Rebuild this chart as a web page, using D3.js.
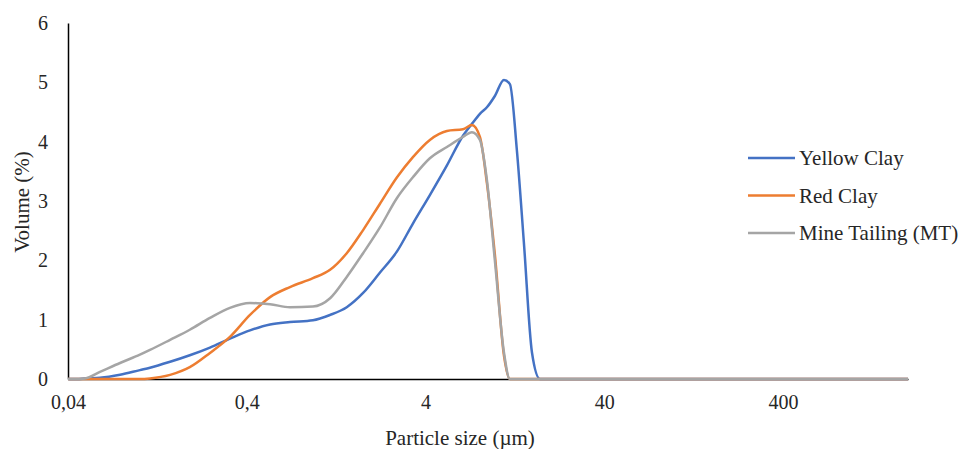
<!DOCTYPE html>
<html>
<head>
<meta charset="utf-8">
<script src="https://cdn.jsdelivr.net/npm/d3@7"></script>
<style>
  body { margin: 0; background: #fff; }
</style>
</head>
<body>
<div id="graph"></div>
<script>
// particle sizes (um) shared by all three series
const sizes = [0.04, 0.0449, 0.0498, 0.0604, 0.0782, 0.101, 0.115, 0.149, 0.192, 0.249,
  0.322, 0.417, 0.540, 0.698, 0.938, 1.17, 1.45, 1.79, 2.22, 2.77,
  3.40, 4.23, 5.27, 6.48, 7.27, 8.06, 8.82, 9.77, 10.98, 11.86,
  12.98, 14.2, 15.75, 17.46, 37.8, 2000];

const yellowClay = [0, 0, 0.01, 0.02, 0.07, 0.15, 0.19, 0.29, 0.40, 0.53,
  0.68, 0.82, 0.92, 0.96, 0.99, 1.08, 1.21, 1.45, 1.79, 2.15,
  2.62, 3.10, 3.60, 4.10, 4.30, 4.47, 4.58, 4.77, 5.04, 4.97,
  3.85, 2.30, 0.45, 0, 0, 0];

const redClay = [0, 0, 0, 0, 0, 0, 0.01, 0.07, 0.20, 0.44,
  0.71, 1.08, 1.38, 1.55, 1.70, 1.84, 2.12, 2.51, 2.95, 3.40,
  3.74, 4.03, 4.18, 4.21, 4.28, 4.08, 3.30, 2.10, 0.40, 0,
  0, 0, 0, 0, 0, 0];

const mineTailing = [0, 0, 0.01, 0.12, 0.27, 0.41, 0.49, 0.66, 0.83, 1.03,
  1.20, 1.28, 1.26, 1.21, 1.22, 1.36, 1.72, 2.12, 2.55, 3.05,
  3.40, 3.72, 3.91, 4.08, 4.16, 4.03, 3.35, 2.00, 0.45, 0,
  0, 0, 0, 0, 0, 0];

const seriesNames = ["Yellow Clay", "Red Clay", "Mine Tailing (MT)"];
const seriesColors = ["#4472C4", "#ED7D31", "#A5A5A5"];
const xTicks = [0.04, 0.4, 4, 40, 400];
const xTickLabels = ["0,04", "0,4", "4", "40", "400"];
const yTicks = [0, 1, 2, 3, 4, 5, 6];

const width = 973, height = 449;
const plotLeft = 68, plotRight = 908, plotTop = 23, plotBottom = 379;

const svg = d3.select('#graph').append('svg')
  .attr('width', width)
  .attr('height', height)
  .style('background', 'white');

const x = d3.scaleLog().domain([0.04, 2000]).range([plotLeft, plotRight]);
const y = d3.scaleLinear().domain([0, 6]).range([plotBottom, plotTop]);

// y axis
const yAxis = svg.append('g')
  .attr('transform', `translate(${plotLeft},0)`)
  .call(d3.axisLeft(y).tickValues(yTicks).tickFormat(d3.format('d'))
    .tickSizeInner(0).tickSizeOuter(0).tickPadding(20));
yAxis.select('.domain').attr('stroke', '#000').attr('stroke-width', 1.5);
yAxis.selectAll('text').style('font-size', '20px');

// x axis
const xAxis = svg.append('g')
  .attr('transform', `translate(0,${plotBottom})`)
  .call(d3.axisBottom(x).tickValues(xTicks)
    .tickFormat((d, i) => xTickLabels[i])
    .tickSizeInner(0).tickSizeOuter(0).tickPadding(16));
xAxis.select('.domain').attr('stroke', '#000').attr('stroke-width', 1.5);
xAxis.selectAll('text').style('font-size', '20px');

// lines
const allSeries = [yellowClay, redClay, mineTailing];
const line = d3.line()
  .x((d, i) => x(sizes[i]))
  .y(d => y(d))
  .curve(d3.curveMonotoneX);

allSeries.forEach((vals, k) => {
  svg.append('path')
    .datum(vals)
    .attr('d', line)
    .attr('fill', 'none')
    .attr('stroke', seriesColors[k])
    .attr('stroke-width', 2.5)
    .attr('stroke-linejoin', 'round');
});

// axis titles
svg.append('text')
  .attr('x', 460)
  .attr('y', 445)
  .attr('text-anchor', 'middle')
  .style('font-size', '21px')
  .text('Particle size (µm)');

svg.append('text')
  .attr('transform', 'translate(29,202) rotate(-90)')
  .attr('text-anchor', 'middle')
  .style('font-size', '21px')
  .text('Volume (%)');

// legend
const legend = svg.append('g');
seriesNames.forEach((name, k) => {
  const ly = 158 + k * 37.5;
  legend.append('line')
    .attr('x1', 748).attr('x2', 795)
    .attr('y1', ly).attr('y2', ly)
    .attr('stroke', seriesColors[k])
    .attr('stroke-width', 2.5);
  legend.append('text')
    .attr('x', 799)
    .attr('y', ly)
    .attr('dy', '0.35em')
    .style('font-size', '21px')
    .text(name);
});

// same serif face on every label
svg.selectAll('text')
  .style('font-family', "'Liberation Serif'")
  .attr('fill', '#262626');
</script>
</body>
</html>
